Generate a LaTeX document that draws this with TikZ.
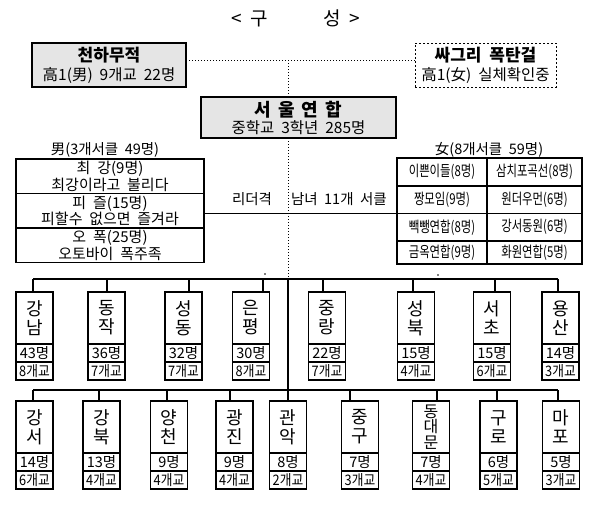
\documentclass[tikz,border=0pt]{standalone}
\usepackage{fontspec}
\usepackage{graphicx}
\setmainfont[WordSpace=2]{Noto Sans CJK KR}
\usetikzlibrary{calc}
\newcommand\cnd[1]{\scalebox{0.88}[1]{#1}}
\newcommand\cndF[1]{\scalebox{0.76}[1]{#1}}
\begin{document}
\begin{tikzpicture}[x=1pt,y=-1pt,
  every node/.style={inner sep=0pt,outer sep=0pt},
  txt/.style={font=\fontsize{14.5}{17}\selectfont},
  gbox/.style={draw,line width=1.8pt,fill=black!10,align=center},
  cellL/.style={draw,line width=1.2pt,minimum width=188pt,minimum height=34.5pt,anchor=north,align=center,font=\fontsize{15}{16.5}\selectfont},
  cellF/.style={draw,line width=1.2pt,anchor=north west,font=\fontsize{15}{15}\selectfont},
  nm/.style={draw,line width=1.2pt,minimum width=37pt,minimum height=52pt,anchor=north,align=center,font=\fontsize{18}{19}\selectfont},
  nmthree/.style={nm,font=\fontsize{16}{15.5}\selectfont},
  cnt/.style={draw,line width=1.2pt,minimum width=37pt,minimum height=18pt,anchor=north,font=\fontsize{14.5}{15}\selectfont},
  conn/.style={line width=1.1pt},
  dotline/.style={line width=1pt,dash pattern=on 1.2pt off 1.8pt}
]
\useasboundingbox (0,0) rectangle (600,520);

% title
\node[font=\fontsize{19}{20}\selectfont] (title) at (296,18) {<\hspace{8pt}구\hspace{56pt}성\hspace{8pt}>};

% top boxes
\node[gbox,minimum width=154pt,minimum height=44pt,font=\fontsize{15.5}{19}\selectfont] (chd) at (109,65) {{\fontsize{17}{19}\selectfont\bfseries 천하무적}\\高1(男) 9개교 22명};
\node[draw,dash pattern=on 2pt off 2pt,line width=0.9pt,minimum width=141pt,minimum height=44pt,align=center,font=\fontsize{15.5}{19}\selectfont] (sg) at (485.5,65) {{\fontsize{17}{19}\selectfont\bfseries 싸그리 폭탄걸}\\高1(女) 실체확인중};
\coordinate (topJ) at (288,60);
\draw[dotline] (topJ -| chd.east) -- (topJ -| sg.west);

\node[gbox,minimum width=195pt,minimum height=41pt,font=\fontsize{15.5}{17}\selectfont] (su) at (298.5,117.5) {{\fontsize{18}{17}\selectfont\bfseries 서\hspace{7pt}울\hspace{7pt}연\hspace{7pt}합}\\중학교 3학년 285명};
\draw[dotline] (topJ) -- (topJ |- su.north);
\coordinate (busMj) at (288,279);
\draw[dotline] (su.south -| topJ) -- (busMj);

% labels
\node[txt] (mlab) at (105,150) {男(3개서클 49명)};
\node[txt] (flab) at (489,150) {女(8개서클 59명)};

% male box
\node[cellL] (l1) at (110,159) {최\hspace{7pt}강(9명)\\최강이라고 불리다};
\node[cellL] (l2) at (l1.south) {피\hspace{7pt}즐(15명)\\피할수 없으면 즐겨라};
\node[cellL] (l3) at (l2.south) {오\hspace{7pt}폭(25명)\\오토바이 폭주족};
\draw[line width=1.6pt] (l1.north west) rectangle (l3.south east);

% female box
\node[cellF,minimum width=90pt,minimum height=28pt] (f11) at (397,158) {\cndF{이쁜이들(8명)}};
\node[cellF,minimum width=95pt,minimum height=28pt] (f12) at (487,158) {\cndF{삼치포곡선(8명)}};
\node[cellF,minimum width=90pt,minimum height=27.5pt] (f21) at (397,186) {\cndF{짱모임(9명)}};
\node[cellF,minimum width=95pt,minimum height=27.5pt] (f22) at (487,186) {\cndF{원더우먼(6명)}};
\node[cellF,minimum width=90pt,minimum height=27.5pt] (f31) at (397,213.5) {\cndF{빽뺑연합(8명)}};
\node[cellF,minimum width=95pt,minimum height=27.5pt] (f32) at (487,213.5) {\cndF{강서동원(6명)}};
\node[cellF,minimum width=90pt,minimum height=23pt] (f41) at (397,241) {\cndF{금옥연합(9명)}};
\node[cellF,minimum width=95pt,minimum height=23pt] (f42) at (487,241) {\cndF{화원연합(5명)}};
\draw[line width=1.6pt] (f11.north west) rectangle (f42.south east);

% leader link
\draw[conn] (l2.east |- f31.north west) -- (f31.north west);
\node[txt,anchor=west] (lead1) at (232,199) {리더격};
\node[txt,anchor=west] (lead2) at (291,199) {남녀 11개 서클};

% middle row
\coordinate (busM1) at (33,279);
\coordinate (busM2) at (558,279);
\draw[conn] (busM1) -- (busM2);
\foreach \cx/\dx/\nmx/\ct/\sc/\i in {
  34.5/-1.5/{강\\남}/43명/8개교/1,
  106.5/0.5/{동\\작}/36명/7개교/2,
  183.5/5.5/{성\\동}/32명/7개교/3,
  251/12/{은\\평}/30명/8개교/4,
  327/-4/{중\\랑}/22명/7개교/5,
  416/-3/{성\\북}/15명/4개교/6,
  492/3/{서\\초}/15명/6개교/7,
  560.5/-2.5/{용\\산}/14명/3개교/8}{
  \node[nm] (m\i) at (\cx,292) {\nmx};
  \node[cnt] (mc\i) at (m\i.south) {\ct};
  \node[cnt] (ms\i) at (mc\i.south) {\cnd{\sc}};
  \draw[conn] ($(m\i.north)+(\dx,0)$) -- ($(m\i.north |- busM1)+(\dx,0)$);
}

% bottom row
\coordinate (busB1) at (33,390);
\coordinate (busB2) at (558,390);
\draw[conn] (busB1) -- (busB2);
\foreach \cx/\dx/\nmx/\ct/\sc/\st/\i in {
  34.5/-1.5/{강\\서}/14명/6개교/nm/1,
  101.5/-2.5/{강\\북}/13명/4개교/nm/2,
  169/-2/{양\\천}/9명/4개교/nm/3,
  234.5/-4.5/{광\\진}/9명/4개교/nm/4,
  288/0/{관\\악}/8명/2개교/nm/5,
  360/-10/{중\\구}/7명/3개교/nm/6,
  431/6/{동\\대\\문}/7명/4개교/nmthree/7,
  498.5/-1.5/{구\\로}/6명/5개교/nm/8,
  561/-3/{마\\포}/5명/3개교/nm/9}{
  \node[\st] (b\i) at (\cx,401) {\nmx};
  \node[cnt] (bc\i) at (b\i.south) {\ct};
  \node[cnt] (bs\i) at (bc\i.south) {\cnd{\sc}};
  \draw[conn] ($(b\i.north)+(\dx,0)$) -- ($(b\i.north |- busB1)+(\dx,0)$);
}

% trunk
\draw[conn] (busMj) -- (b5.north);

% stray dots
\fill (265,274) circle (0.8pt);
\fill (438,275) circle (0.8pt);
\end{tikzpicture}
\end{document}
